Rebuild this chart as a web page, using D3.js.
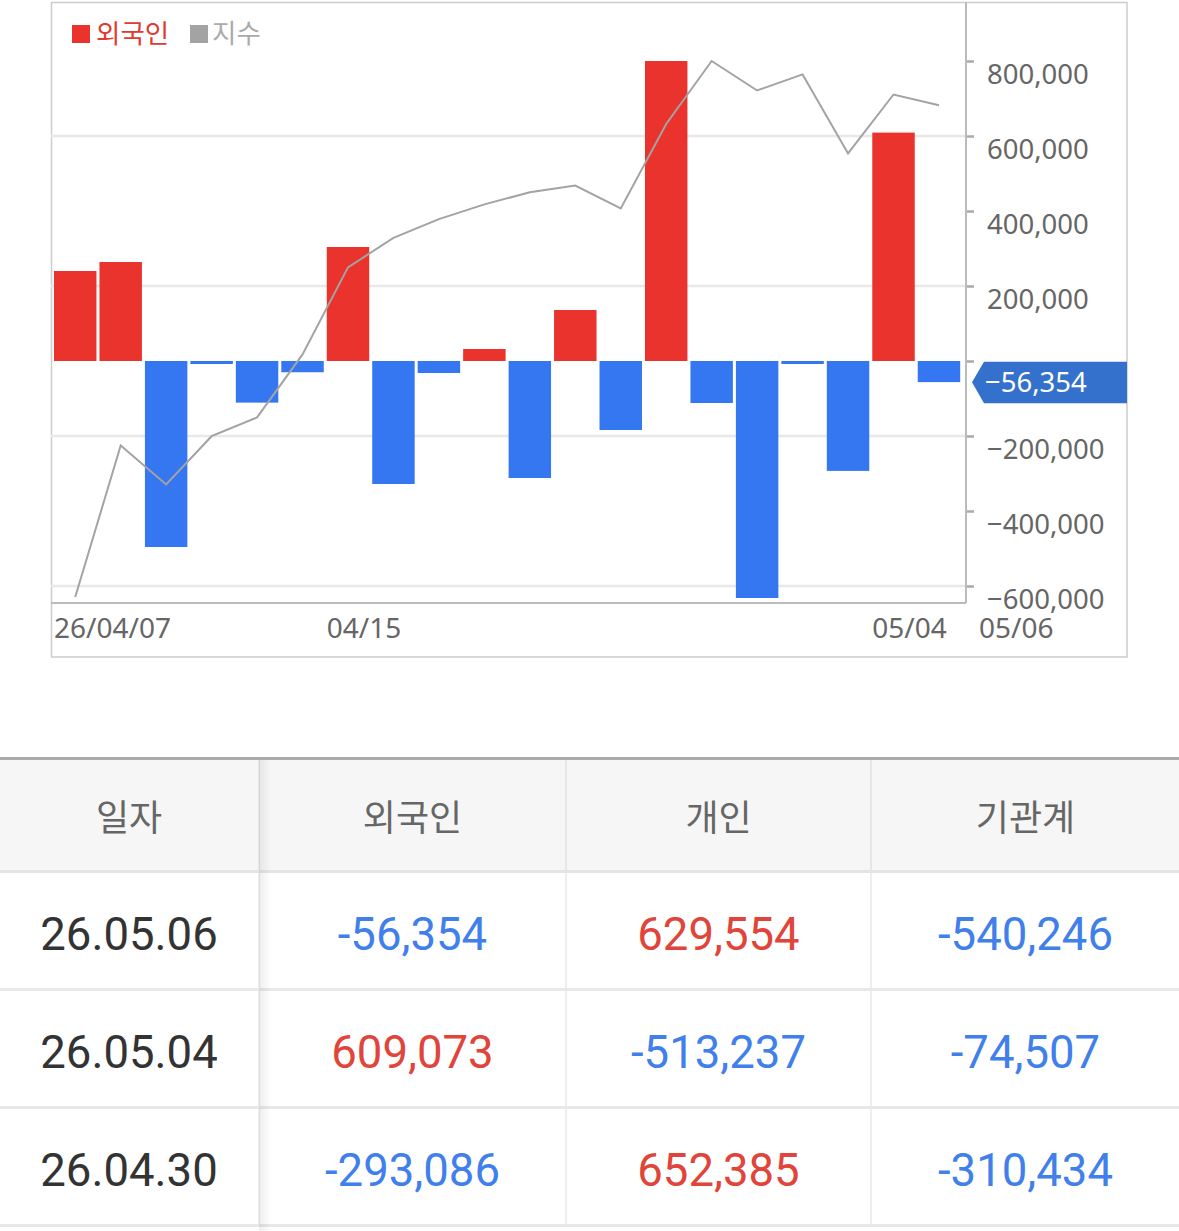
<!DOCTYPE html>
<html lang="ko">
<head>
<meta charset="utf-8">
<script src="https://cdn.jsdelivr.net/npm/d3@7.9.0/dist/d3.min.js"></script>
<style>
  html, body { margin: 0; padding: 0; background: #fff; }
  body { width: 1179px; height: 1231px; position: relative; overflow: hidden;
         font-family: "Noto Sans", "Noto Sans CJK KR", sans-serif; }
  #chart { position: absolute; left: 0; top: 0; }
  #tbl { position: absolute; left: 0; top: 757px; width: 1179px;
         border-collapse: collapse; table-layout: fixed; border-top: 3px solid #aaa; }
  #tbl th { height: 110px; background: #f6f6f6; color: #666; font-weight: 400;
            font-family: "Noto Sans CJK KR", sans-serif; font-size: 36px;
            border-right: 2px solid #e6e6e6; border-bottom: 3px solid #e4e4e4; padding: 0; }
  #tbl td { height: 108px; text-align: center; font-family: Roboto, sans-serif; font-size: 45.5px;
            border-right: 2px solid #eee; border-bottom: 3px solid #e8e8e8;
            padding: 7px 0 0 0; }
  #tbl th:last-child, #tbl td:last-child { border-right: none; }
  #shadow { position: absolute; left: 259px; top: 760px; width: 12px; height: 471px;
            background: linear-gradient(to right, rgba(0,0,0,0.07), rgba(0,0,0,0)); }
</style>
</head>
<body>
<svg id="chart" width="1179" height="700"></svg>
<table id="tbl"></table>
<div id="shadow"></div>
<script>
// ---------- Data ----------
const dates = [
  '2026-04-07', '2026-04-08', '2026-04-09', '2026-04-10', '2026-04-13',
  '2026-04-14', '2026-04-15', '2026-04-16', '2026-04-17', '2026-04-20',
  '2026-04-21', '2026-04-22', '2026-04-23', '2026-04-24', '2026-04-27',
  '2026-04-28', '2026-04-29', '2026-04-30', '2026-05-04', '2026-05-06'
];
// 외국인 순매수 (bars)
const foreignNet = [
  240000, 264000, -496000, -8000, -111000,
  -30000, 304000, -328000, -32000, 32000,
  -312000, 136000, -184000, 800000, -112000,
  -632000, -8000, -293086, 609073, -56354
];
// 지수 (line)
const indexValues = [
  2400, 2513, 2484, 2520, 2534,
  2581, 2646, 2668, 2682, 2693,
  2702, 2707, 2690, 2753, 2800,
  2778, 2790, 2731, 2775, 2767
];
const yTicks = [-600000, -400000, -200000, 0, 200000, 400000, 600000, 800000];
const yGrid = [-600000, -200000, 200000, 600000];
const xTickDates = ['2026-04-07', '2026-04-15', '2026-05-04', '2026-05-06'];
const xTickText = ['26/04/07', '04/15', '05/04', '05/06'];

// table
const tableHeader = ['일자', '외국인', '개인', '기관계'];
const tableDates = ['26.05.06', '26.05.04', '26.04.30'];
const tableForeign = [-56354, 609073, -293086];
const tableIndividual = [629554, -513237, 652385];
const tableInstitution = [-540246, -74507, -310434];

// ---------- Chart ----------
const RED = '#e9332c', BLUE = '#3577f1', GRAY = '#a3a3a3';
const plot = { left: 51, right: 966, top: 2, bottom: 603 };

const svg = d3.select('#chart');

const x = d3.scaleBand()
  .domain(dates)
  .range([52.5, 961.7])
  .paddingInner(0.066)
  .paddingOuter(0.033);

const y = d3.scaleLinear().domain([-600000, 800000]).range([586, 61]);
const yIdx = d3.scaleLinear().domain([2400, 2800]).range([597, 61]);

// frame
svg.append('rect')
  .attr('x', 51.5).attr('y', 2.5)
  .attr('width', 1127 - 51.5).attr('height', 657 - 2.5)
  .attr('fill', 'none').attr('stroke', '#ccc').attr('stroke-width', 1.5);

// gridlines
svg.append('g')
  .selectAll('line')
  .data(yGrid)
  .join('line')
  .attr('x1', plot.left).attr('x2', plot.right)
  .attr('y1', (d) => y(d)).attr('y2', (d) => y(d))
  .attr('stroke', '#e8e8e8').attr('stroke-width', 2.5);

// bars
svg.append('g')
  .selectAll('rect')
  .data(dates.map((d, i) => ({ date: d, v: foreignNet[i] })))
  .join('rect')
  .attr('x', (d) => x(d.date))
  .attr('width', x.bandwidth())
  .attr('y', (d) => y(Math.max(0, d.v)))
  .attr('height', (d) => Math.abs(y(d.v) - y(0)))
  .attr('fill', (d) => (d.v >= 0 ? RED : BLUE));

// index line
const line = d3.line()
  .x((d, i) => x(dates[i]) + x.bandwidth() / 2)
  .y((d) => yIdx(d));
svg.append('path')
  .datum(indexValues)
  .attr('d', line)
  .attr('fill', 'none')
  .attr('stroke', GRAY)
  .attr('stroke-width', 2);

// right axis (the 0 label sits under the current-value marker, so it is left out)
const yAxis = svg.append('g')
  .attr('transform', `translate(${plot.right},0)`)
  .call(d3.axisRight(y).tickValues(yTicks).tickSize(8).tickPadding(13)
    .tickFormat((d) => (d === 0 ? '' : d3.format(',')(d))));
yAxis.select('.domain').remove();
yAxis.selectAll('line').attr('stroke', '#aaa').attr('stroke-width', 2.5);
yAxis.selectAll('text')
  .attr('y', 14)
  .attr('fill', '#666')
  .style('font-family', '"Noto Sans", sans-serif')
  .style('font-size', '27.5px');

// axis lines
svg.append('line')
  .attr('x1', plot.right).attr('x2', plot.right)
  .attr('y1', plot.top).attr('y2', plot.bottom)
  .attr('stroke', '#bbb').attr('stroke-width', 2);
svg.append('line')
  .attr('x1', plot.left).attr('x2', plot.right)
  .attr('y1', plot.bottom).attr('y2', plot.bottom)
  .attr('stroke', '#bbb').attr('stroke-width', 2);

// x labels (left aligned at bar; last one pushed right of axis)
svg.append('g')
  .selectAll('text')
  .data(xTickDates)
  .join('text')
  .attr('x', (d, i) => (i === xTickDates.length - 1 ? 979 : x(d)))
  .attr('y', 638)
  .attr('fill', '#666')
  .style('font-size', '28px')
  .text((d, i) => xTickText[i]);

// legend
const legend = svg.append('g');
legend.append('rect').attr('x', 72).attr('y', 25).attr('width', 18).attr('height', 18).attr('fill', RED);
legend.append('text').attr('x', 96).attr('y', 43).attr('fill', '#e03a32')
  .style('font-family', '"Noto Sans CJK KR", sans-serif').style('font-size', '26.5px').text('외국인');
legend.append('rect').attr('x', 190).attr('y', 25).attr('width', 18).attr('height', 18).attr('fill', GRAY);
legend.append('text').attr('x', 212).attr('y', 43).attr('fill', '#aaa')
  .style('font-family', '"Noto Sans CJK KR", sans-serif').style('font-size', '26.5px').text('지수');

// current value marker
const last = foreignNet[foreignNet.length - 1];
const my = y(last);
svg.append('path')
  .attr('d', `M972,${my} L984,${my - 20.5} L1127,${my - 20.5} L1127,${my + 21} L984,${my + 21} Z`)
  .attr('fill', '#3371cc');
svg.append('text')
  .attr('x', 985).attr('y', my).attr('dy', '0.35em')
  .attr('fill', '#fff')
  .style('font-size', '27.5px')
  .text(d3.format(',')(last));

// ---------- Table ----------
const fmt = d3.format(',');
const numColor = (v) => (v < 0 ? '#4180ea' : '#e0443a');
const tbl = d3.select('#tbl');
const cg = tbl.append('colgroup');
[259, 307, 305, 308].forEach((w) => cg.append('col').style('width', w + 'px'));
tbl.append('thead').append('tr')
  .selectAll('th').data(tableHeader).join('th').text((d) => d);
const rows = tbl.append('tbody')
  .selectAll('tr')
  .data(tableDates.map((d, i) => [d, tableForeign[i], tableIndividual[i], tableInstitution[i]]))
  .join('tr');
rows.selectAll('td')
  .data((r) => r)
  .join('td')
  .style('color', (d, i) => (i === 0 ? '#333' : numColor(d)))
  .text((d, i) => (i === 0 ? d : fmt(d).replace('−', '-')));
</script>
</body>
</html>
